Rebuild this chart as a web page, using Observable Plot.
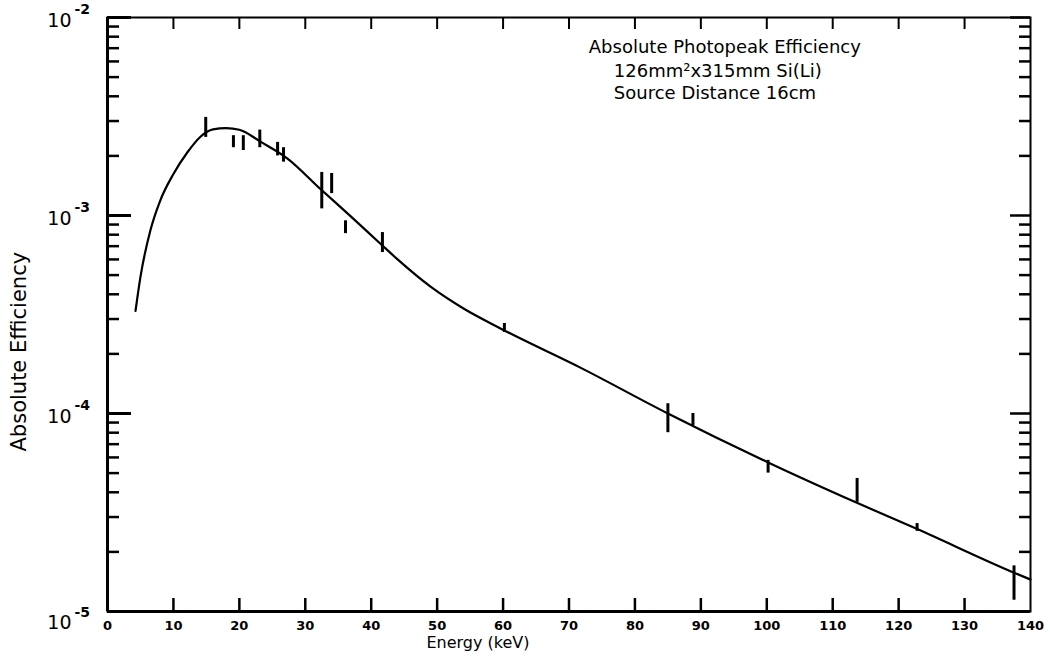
<!DOCTYPE html>
<html>
<head>
<meta charset="utf-8">
<script src="https://cdn.jsdelivr.net/npm/d3@7"></script>
<script src="https://cdn.jsdelivr.net/npm/@observablehq/plot@0.6"></script>
<style>
  html, body { margin: 0; padding: 0; background: #fff; }
  #chart { width: 1050px; height: 659px; }
</style>
</head>
<body>
<div id="chart"></div>
<script>
// Fitted efficiency curve (energy keV, absolute efficiency)
const curveEnergy = [4.25, 5.0, 6.5, 8.0, 10.0, 12.1, 14.1, 16.0, 18.0, 20.0, 23.2, 27.3, 32.3, 36.9, 41.4, 44.0, 49.0, 54.0, 59.6, 71.8, 85.0, 100.2, 113.5, 122.9, 137.5, 140];
const curveEff = [3.3e-4, 4.9e-4, 8.4e-4, 1.19e-3, 1.62e-3, 2.08e-3, 2.5e-3, 2.72e-3, 2.76e-3, 2.71e-3, 2.36e-3, 1.94e-3, 1.36e-3, 9.9e-4, 7.2e-4, 6.0e-4, 4.37e-4, 3.39e-4, 2.69e-4, 1.7e-4, 1.0e-4, 5.66e-5, 3.56e-5, 2.6e-5, 1.57e-5, 1.45e-5];

// Measured points with error bars
const ptEnergy = [14.9, 19.1, 20.6, 23.1, 25.8, 26.7, 32.5, 34.0, 36.1, 41.7, 60.2, 85.0, 88.8, 100.2, 113.7, 122.8, 137.5];
const ptLow  = [2.48e-3, 2.2e-3, 2.13e-3, 2.2e-3, 2.0e-3, 1.86e-3, 1.08e-3, 1.29e-3, 8.1e-4, 6.5e-4, 2.57e-4, 8.0e-5, 8.7e-5, 5.0e-5, 3.56e-5, 2.54e-5, 1.14e-5];
const ptHigh = [3.13e-3, 2.53e-3, 2.53e-3, 2.7e-3, 2.34e-3, 2.2e-3, 1.65e-3, 1.63e-3, 9.4e-4, 8.2e-4, 2.85e-4, 1.12e-4, 1.0e-4, 5.8e-5, 4.7e-5, 2.78e-5, 1.7e-5];

// Axis ticks and labels
const xTicks = [0, 10, 20, 30, 40, 50, 60, 70, 80, 90, 100, 110, 120, 130, 140];
const xInnerTicks = [10, 20, 30, 40, 50, 60, 70, 80, 90, 100, 110, 120, 130];
const yMajor = [1e-5, 1e-4, 1e-3, 1e-2];
const yExponent = ["-5", "-4", "-3", "-2"];
const yMantissas = [2, 3, 4, 5, 6, 7, 8, 9];
const yDecades = [1e-5, 1e-4, 1e-3];

// Annotation
const noteLines = ["Absolute Photopeak Efficiency", "126mm²x315mm Si(Li)", "Source Distance 16cm"];
const noteX = [73.0, 76.8, 76.8];
const noteY = [7.05e-3, 5.34e-3, 4.13e-3];

const xLabel = "Energy (keV)";
const yLabel = "Absolute Efficiency";

const curve = curveEnergy.map((e, i) => ({e, v: curveEff[i]}));
const points = ptEnergy.map((e, i) => ({e, lo: ptLow[i], hi: ptHigh[i]}));
const yMinor = yDecades.flatMap(d => yMantissas.map(m => m * d));
const notes = noteLines.map((t, i) => ({t, x: noteX[i], y: noteY[i]}));
const yLabels = yMajor.map((v, i) => ({v, e: yExponent[i]}));
const yLabelsUpper = yLabels.slice(1);
const yLabelsBottom = yLabels.slice(0, 1);

const W = 1050, H = 659;
const mL = 107, mR = 20, mT = 17, mB = 48;
const fw = W - mL - mR, fh = H - mT - mB;

const chart = Plot.plot({
  width: W,
  height: H,
  marginLeft: mL, marginRight: mR, marginTop: mT, marginBottom: mB,
  style: {fontFamily: "DejaVu Sans, sans-serif", color: "#000", background: "#fff", overflow: "visible"},
  x: {domain: [0, 140], axis: null},
  y: {type: "log", domain: [1e-5, 1e-2], axis: null},
  marks: [
    Plot.frame({stroke: "#000", strokeWidth: 2}),
    Plot.ruleX([0], {stroke: "#000", strokeWidth: 3}),
    Plot.ruleY([1e-5], {stroke: "#000", strokeWidth: 3}),
    // x ticks bottom & top (inward)
    Plot.tickX(xInnerTicks, {x: d => d, insetTop: fh - 13, strokeWidth: 2.5}),
    Plot.tickX(xInnerTicks, {x: d => d, insetBottom: fh - 12, strokeWidth: 2}),
    // y ticks left & right (inward)
    Plot.tickY(yMajor, {y: d => d, insetRight: fw - 24, strokeWidth: 3}),
    Plot.tickY(yMinor, {y: d => d, insetRight: fw - 12, strokeWidth: 2.5}),
    Plot.tickY(yMajor, {y: d => d, insetLeft: fw - 20, strokeWidth: 2.5}),
    Plot.tickY(yMinor, {y: d => d, insetLeft: fw - 11, strokeWidth: 2.5}),
    // x tick labels
    Plot.axisX({ticks: xTicks, tickSize: 0, tickPadding: 9, fontSize: 13, fontWeight: "bold", label: null}),
    // y tick labels: 10^n
    Plot.text(yLabelsUpper, {y: "v", text: () => "10", frameAnchor: "left", textAnchor: "end", dx: -36, dy: 3, fontSize: 19}),
    Plot.text(yLabelsUpper, {y: "v", text: "e", frameAnchor: "left", textAnchor: "start", dx: -33, dy: -8, fontSize: 14, fontWeight: "bold"}),
    Plot.text(yLabelsBottom, {y: "v", text: () => "10", frameAnchor: "left", textAnchor: "end", dx: -36, dy: 11, fontSize: 19}),
    Plot.text(yLabelsBottom, {y: "v", text: "e", frameAnchor: "left", textAnchor: "start", dx: -33, dy: 1, fontSize: 14, fontWeight: "bold"}),
    // axis titles
    Plot.text([xLabel], {text: d => d, frameAnchor: "bottom", dx: -91, dy: 36, fontSize: 16}),
    Plot.text([yLabel], {text: d => d, frameAnchor: "left", rotate: -90, dx: -88, dy: 137, fontSize: 21, letterSpacing: "2px"}),
    // annotation
    Plot.text(notes, {x: "x", y: "y", text: "t", textAnchor: "start", fontSize: 18}),
    // curve and data
    Plot.line(curve, {x: "e", y: "v", curve: "monotone-x", stroke: "#000", strokeWidth: 2.2}),
    Plot.ruleX(points, {x: "e", y1: "lo", y2: "hi", stroke: "#000", strokeWidth: 3})
  ]
});
document.getElementById("chart").appendChild(chart);
</script>
</body>
</html>
